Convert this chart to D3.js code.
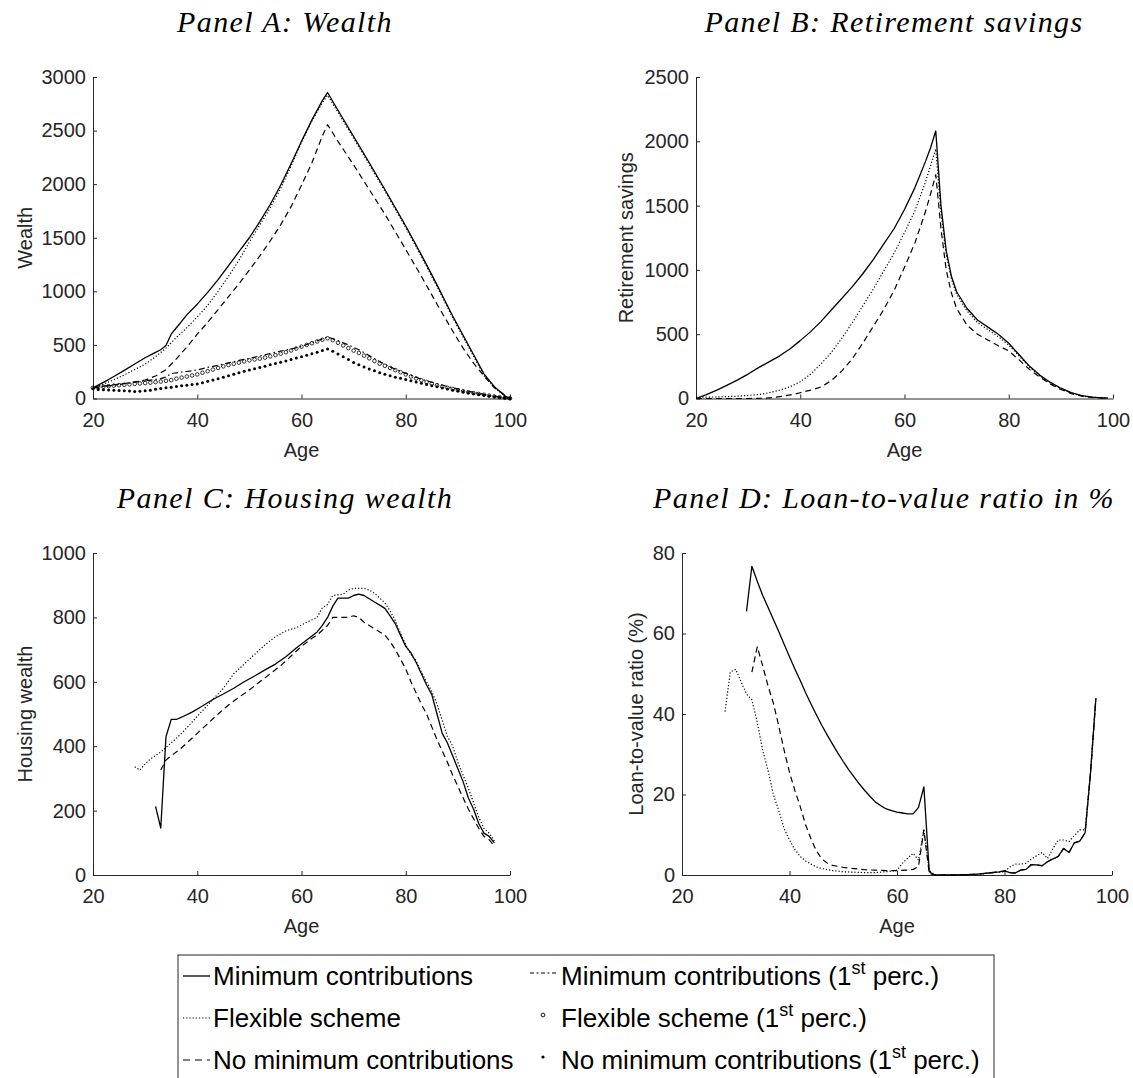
<!DOCTYPE html>
<html><head><meta charset="utf-8">
<script src="https://cdn.jsdelivr.net/npm/d3@7"></script>
<style>body{margin:0;background:#fff}svg{display:block}</style>
</head><body>
<svg id="c" width="1133" height="1078"></svg>
<script>
// ---------- DATA ----------
const xTicks = [20, 40, 60, 80, 100];
const annualAges = d3.range(20, 101);

// Panel A: Wealth
const wealthMin = [[20,100],[22,150],[24,205],[26,262],[28,322],[30,380],[32,430],[33,455],[34,495],[35,600],[36,660],[37,720],[38,780],[40,880],[42,990],[44,1110],[46,1240],[48,1370],[50,1500],[52,1650],[54,1810],[56,1990],[58,2190],[60,2400],[62,2600],[64,2780],[65,2855],[67,2690],[70,2445],[73,2200],[76,1950],[80,1610],[83,1340],[86,1060],[89,770],[91,590],[93,410],[95,230],[97,110],[99,25],[100,0]];
const wealthFlex = [[20,100],[22,135],[24,175],[26,220],[28,270],[30,320],[32,390],[34,470],[36,570],[38,660],[40,760],[42,870],[44,1000],[46,1140],[48,1290],[50,1460],[52,1620],[54,1780],[56,1960],[58,2170],[60,2390],[62,2590],[64,2760],[65,2830],[67,2670],[70,2430],[73,2185],[76,1935],[80,1595],[83,1325],[86,1045],[89,755],[91,575],[93,395],[95,215],[97,105],[99,22],[100,0]];
const wealthNoMin = [[20,100],[22,115],[24,128],[26,140],[28,155],[30,172],[32,210],[34,270],[36,370],[38,480],[40,600],[42,710],[44,830],[46,950],[48,1070],[50,1200],[52,1330],[54,1470],[56,1620],[58,1790],[60,1990],[62,2200],[64,2450],[65,2555],[67,2400],[70,2180],[73,1950],[76,1720],[80,1390],[83,1140],[86,880],[89,630],[91,470],[93,330],[95,210],[97,100],[100,0]];
const wealthMinP1 = [[20,100],[23,118],[26,138],[29,158],[32,178],[33,185],[34,200],[35,232],[36,240],[38,252],[40,266],[42,290],[44,310],[46,333],[48,355],[50,375],[52,397],[54,420],[56,442],[58,462],[60,486],[62,520],[64,556],[65,575],[67,540],[69,500],[71,455],[73,400],[75,345],[77,295],[80,234],[83,180],[86,138],[89,100],[92,68],[95,38],[98,12],[100,0]];
const wealthFlexP1 = [100,105,110,115,120,124,128,132,136,140,144,148,153,158,165,172,185,195,205,215,225,240,255,270,285,300,312,324,335,346,356,364,372,382,393,405,418,432,448,466,484,500,516,532,548,562,545,520,495,470,447,425,400,375,350,325,305,285,265,245,225,205,187,170,153,138,124,111,99,88,77,67,58,50,42,35,27,19,12,6,1];
const wealthNoMinP1 = [90,85,82,79,77,75,72,70,66,68,72,78,86,94,100,106,112,118,124,130,136,148,160,172,185,198,212,226,240,254,266,278,290,302,314,326,338,350,364,377,390,404,418,432,447,462,440,415,390,363,337,315,295,276,258,241,226,212,199,188,177,165,153,142,131,120,110,99,88,78,69,60,52,45,38,31,24,17,11,6,1];

// Panel B: Retirement savings
const retMin = [[20,0],[22,30],[24,65],[26,104],[28,145],[30,190],[32,240],[34,285],[36,330],[38,385],[40,450],[42,520],[44,600],[46,690],[48,780],[50,870],[52,970],[54,1080],[56,1200],[58,1320],[60,1470],[62,1640],[64,1840],[65,1950],[66,2080],[67,1500],[68,1150],[69,950],[70,830],[72,700],[74,610],[76,555],[78,500],[80,430],[82,340],[84,250],[86,180],[88,125],[90,80],[92,45],[94,22],[96,10],[98,5],[99,4]];
const retFlex = [[20,10],[24,12],[28,18],[32,30],[34,45],[36,65],[38,90],[40,130],[42,190],[44,270],[46,360],[48,470],[50,590],[52,720],[54,850],[56,990],[58,1130],[60,1290],[62,1460],[64,1680],[65,1810],[66,1940],[67,1450],[68,1120],[69,930],[70,810],[72,680],[74,590],[76,535],[78,480],[80,415],[82,330],[84,245],[86,175],[88,120],[90,75],[92,42],[94,20],[96,9],[98,5],[99,4]];
const retNoMin = [[20,0],[30,0],[33,2],[35,8],[37,20],[39,35],[40,45],[42,65],[44,90],[46,140],[48,215],[50,310],[52,430],[54,560],[56,690],[58,840],[60,1020],[62,1210],[64,1450],[65,1590],[66,1740],[67,1320],[68,1000],[69,820],[70,700],[72,570],[74,500],[76,455],[78,410],[80,370],[82,300],[84,225],[86,165],[88,112],[90,70],[92,38],[94,18],[96,8],[98,4],[99,3]];

// Panel C: Housing wealth
const houseMin = [[32,213],[33,146],[34,429],[35,483],[36,483],[37,490],[39,506],[41,525],[43,545],[45,562],[47,580],[49,600],[51,618],[53,637],[55,655],[57,678],[59,705],[61,730],[63,755],[64,775],[65,800],[66,835],[67,860],[68,860],[69,860],[70,868],[71,872],[72,868],[73,858],[74,848],[75,838],[76,828],[77,805],[78,780],[79,745],[80,710],[81,690],[82,660],[83,625],[84,590],[85,560],[86,500],[87,440],[88,410],[89,370],[90,330],[91,290],[92,240],[93,205],[94,160],[95,130],[96,120],[97,100]];
const houseFlex = [[28,336],[29,326],[30,345],[31,360],[33,382],[35,410],[37,440],[39,475],[41,510],[43,545],[45,580],[47,625],[49,655],[51,685],[53,715],[55,740],[57,758],[59,768],[61,785],[63,800],[64,830],[65,840],[66,868],[67,870],[68,872],[69,885],[70,890],[72,890],[73,885],[74,875],[75,860],[76,845],[77,820],[78,790],[79,750],[80,715],[81,685],[82,665],[83,630],[84,600],[85,570],[86,530],[87,480],[88,430],[89,400],[90,350],[91,310],[92,270],[93,225],[94,180],[95,145],[96,130],[97,105]];
const houseNoMin = [[33,326],[34,357],[35,370],[37,395],[40,440],[42,470],[44,500],[46,528],[48,552],[50,575],[52,600],[54,625],[56,650],[58,680],[60,710],[62,735],[63,745],[64,760],[65,775],[66,800],[68,800],[69,800],[70,805],[71,800],[72,785],[73,775],[75,755],[76,745],[77,725],[78,700],[79,670],[80,640],[81,600],[82,565],[83,530],[84,500],[85,460],[86,420],[87,385],[88,350],[89,310],[90,275],[91,240],[92,205],[93,175],[94,145],[95,120],[96,110],[97,90]];

// Panel D: Loan-to-value ratio (%)
const ltvMin = [[32,65.5],[33,76.7],[34,73],[35,69.5],[36,66.5],[37,63.5],[38,60.5],[39,57.3],[40,54.2],[41,51.2],[42,48.3],[43,45.3],[44,42.5],[45,39.8],[46,37.2],[47,34.8],[48,32.5],[49,30.3],[50,28.2],[51,26.2],[52,24.4],[53,22.6],[54,21],[55,19.5],[56,18.1],[57,17.2],[58,16.4],[59,16],[60,15.6],[61,15.4],[62,15.2],[63,15.2],[64,16.8],[65,21.9],[66,0.8],[67,0],[70,0],[73,0.1],[75,0.2],[77,0.5],[79,0.8],[80,1.0],[81,0.6],[82,0.5],[83,1.2],[84,1.4],[85,2.6],[86,2.5],[87,2.3],[88,3.3],[89,4],[90,4.6],[91,6.6],[92,5.6],[93,8.0],[94,8.4],[95,10.5],[96,25.3],[97,43.9]];
const ltvFlex = [[28,40.6],[29,50.5],[30,51.1],[31,48],[32,45],[33,43.5],[34,38],[35,31],[36,26],[37,20],[38,16],[39,11.5],[40,8.7],[41,6.3],[42,4.6],[43,3.5],[44,2.7],[45,2.0],[46,1.6],[48,1.1],[50,0.8],[52,0.7],[54,0.6],[56,0.6],[58,0.8],[60,1.2],[61,2.9],[62,4.2],[63,5.4],[64,3.7],[65,11.2],[66,1.2],[67,0],[70,0],[73,0.1],[76,0.3],[78,0.6],[80,0.8],[81,2.0],[82,2.7],[83,2.7],[84,2.9],[85,4],[86,4.8],[87,5.6],[88,4.1],[89,6.5],[90,8.7],[91,8.7],[92,8.3],[93,9.8],[94,11.2],[95,11.2],[96,25.3],[97,43.9]];
const ltvNoMin = [[33,50.4],[34,56.7],[35,52],[36,47],[37,42.7],[38,37],[39,31],[40,25.5],[41,21],[42,17],[43,12.5],[44,9],[45,6],[46,4],[47,3],[48,2.4],[50,1.9],[52,1.6],[54,1.3],[56,1.2],[58,1.1],[60,1.1],[62,1.2],[63,1.4],[64,2.1],[65,11.2],[66,0.4],[67,0],[70,0],[73,0.1],[75,0.2],[77,0.5],[79,0.8],[80,1.0],[81,0.6],[82,0.5],[83,1.2],[84,1.4],[85,2.6],[86,2.5],[87,2.3],[88,3.3],[89,4],[90,4.6],[91,6.6],[92,5.6],[93,8.0],[94,8.4],[95,10.5],[96,25.3],[97,43.9]];

const titles = ["Panel A: Wealth", "Panel B: Retirement savings", "Panel C: Housing wealth", "Panel D: Loan-to-value ratio in %"];
const yLabels = ["Wealth", "Retirement savings", "Housing wealth", "Loan-to-value ratio (%)"];
const yTicksA = [0, 500, 1000, 1500, 2000, 2500, 3000];
const yTicksB = [0, 500, 1000, 1500, 2000, 2500];
const yTicksC = [0, 200, 400, 600, 800, 1000];
const yTicksD = [0, 20, 40, 60, 80];
const legendLabels = ["Minimum contributions", "Flexible scheme", "No minimum contributions",
  "Minimum contributions", "Flexible scheme", "No minimum contributions"];

// ---------- STYLE ----------
const AX = "#262626";
const SANS = "'Liberation Sans', Arial, Helvetica, sans-serif";
const SERIF = "'Liberation Serif', 'Times New Roman', serif";
const styles = {
  solid: {dash: null, w: 1.3},
  dotted: {dash: "1.2,2", w: 1.2},
  dashed: {dash: "6,4", w: 1.2},
  dashdot: {dash: "6,3,1.5,3", w: 1.2}
};

const svg = d3.select("#c");
const fmt = d3.format("d");

function panel(o) {
  const x = d3.scaleLinear().domain([20, 100]).range([o.x0, o.x1]);
  const y = d3.scaleLinear().domain([0, o.ymax]).range([o.y1, o.y0]);
  const g = svg.append("g");

  const ax = g.append("g").attr("transform", `translate(0,${o.y1})`)
    .call(d3.axisBottom(x).tickValues(xTicks).tickFormat(fmt).tickSizeInner(-4).tickSizeOuter(0).tickPadding(14));
  const ay = g.append("g").attr("transform", `translate(${o.x0},0)`)
    .call(d3.axisLeft(y).tickValues(o.yticks).tickFormat(fmt).tickSizeInner(-4).tickSizeOuter(0).tickPadding(7));
  [ax, ay].forEach(a => {
    a.select(".domain").attr("stroke", AX).attr("stroke-width", 1);
    a.selectAll(".tick line").attr("stroke", AX);
    a.selectAll(".tick text").attr("fill", AX).style("font-family", SANS).style("font-size", "20px");
  });

  const line = d3.line().x(d => x(d[0])).y(d => y(d[1]));
  o.lines.forEach(s => {
    const st = styles[s.style];
    g.append("path").datum(s.data).attr("d", line).attr("fill", "none")
      .attr("stroke", "#000").attr("stroke-width", st.w)
      .attr("stroke-dasharray", st.dash).attr("stroke-linejoin", "round");
  });
  (o.markers || []).forEach(m => {
    const pts = annualAges.map((a, i) => [a, m.data[i]]);
    const sel = g.append("g").selectAll("circle").data(pts).join("circle")
      .attr("cx", d => x(d[0])).attr("cy", d => y(d[1]));
    if (m.type === "o") sel.attr("r", 1.8).attr("fill", "none").attr("stroke", "#000").attr("stroke-width", 0.8);
    else sel.attr("r", 1.5).attr("fill", "#000");
  });

  g.append("text").attr("x", (o.x0 + o.x1) / 2).attr("y", o.y1 + 58)
    .attr("text-anchor", "middle").attr("fill", AX)
    .style("font-family", SANS).style("font-size", "20px").text("Age");
  g.append("text").attr("transform", `translate(${o.ylx},${(o.y0 + o.y1) / 2}) rotate(-90)`)
    .attr("text-anchor", "middle").attr("dy", "0.35em").attr("fill", AX)
    .style("font-family", SANS).style("font-size", "20px").text(o.ylabel);
  g.append("text").attr("x", o.tx).attr("y", o.y0 - 45)
    .attr("text-anchor", "middle").attr("fill", "#000")
    .style("font-family", SERIF).style("font-style", "italic").style("font-size", "30px")
    .style("letter-spacing", "1.4px").text(o.title);
}

panel({x0: 93, x1: 510, y0: 77, y1: 398.5, ymax: 3000, yticks: yTicksA, ylabel: yLabels[0], ylx: 25, title: titles[0], tx: 285,
  lines: [{data: wealthMin, style: "solid"}, {data: wealthFlex, style: "dotted"}, {data: wealthNoMin, style: "dashed"}, {data: wealthMinP1, style: "dashdot"}],
  markers: [{data: wealthFlexP1, type: "o"}, {data: wealthNoMinP1, type: "."}]});
panel({x0: 696, x1: 1113, y0: 77, y1: 398.5, ymax: 2500, yticks: yTicksB, ylabel: yLabels[1], ylx: 626, title: titles[1], tx: 894,
  lines: [{data: retMin, style: "solid"}, {data: retFlex, style: "dotted"}, {data: retNoMin, style: "dashed"}]});
panel({x0: 93, x1: 510, y0: 553, y1: 875, ymax: 1000, yticks: yTicksC, ylabel: yLabels[2], ylx: 25, title: titles[2], tx: 285,
  lines: [{data: houseMin, style: "solid"}, {data: houseFlex, style: "dotted"}, {data: houseNoMin, style: "dashed"}]});
panel({x0: 682, x1: 1112, y0: 553, y1: 875, ymax: 80, yticks: yTicksD, ylabel: yLabels[3], ylx: 636, title: titles[3], tx: 884,
  lines: [{data: ltvMin, style: "solid"}, {data: ltvFlex, style: "dotted"}, {data: ltvNoMin, style: "dashed"}]});

// ---------- LEGEND ----------
const lg = svg.append("g");
lg.append("rect").attr("x", 178).attr("y", 955).attr("width", 816).attr("height", 140)
  .attr("fill", "#fff").attr("stroke", AX).attr("stroke-width", 1);
const rowY = [985, 1027, 1069];
const leftStyles = ["solid", "dotted", "dashed"];
leftStyles.forEach((s, i) => {
  const st = styles[s];
  const yy = rowY[i] - 9;
  lg.append("line").attr("x1", 183).attr("x2", 210).attr("y1", yy).attr("y2", yy)
    .attr("stroke", "#000").attr("stroke-width", st.w).attr("stroke-dasharray", s === "dashed" ? "7,5" : st.dash);
  lg.append("text").attr("x", 213).attr("y", rowY[i]).attr("fill", "#000")
    .style("font-family", SANS).style("font-size", "26px").text(legendLabels[i]);
});
// right column
lg.append("line").attr("x1", 530).attr("x2", 558).attr("y1", rowY[0] - 12).attr("y2", rowY[0] - 12)
  .attr("stroke", "#000").attr("stroke-width", 1.2).attr("stroke-dasharray", "4,2.5,2,2.5");
lg.append("circle").attr("cx", 543).attr("cy", rowY[1] - 12).attr("r", 1.9)
  .attr("fill", "none").attr("stroke", "#000").attr("stroke-width", 0.9);
lg.append("circle").attr("cx", 543).attr("cy", rowY[2] - 12).attr("r", 1.6).attr("fill", "#000");
[3, 4, 5].forEach((k, i) => {
  const t = lg.append("text").attr("x", 561).attr("y", rowY[i]).attr("fill", "#000")
    .style("font-family", SANS).style("font-size", "26px");
  t.append("tspan").text(legendLabels[k] + " (1");
  t.append("tspan").attr("dy", -11).style("font-size", "18px").text("st");
  t.append("tspan").attr("dy", 11).text(" perc.)");
});
</script>
</body></html>
